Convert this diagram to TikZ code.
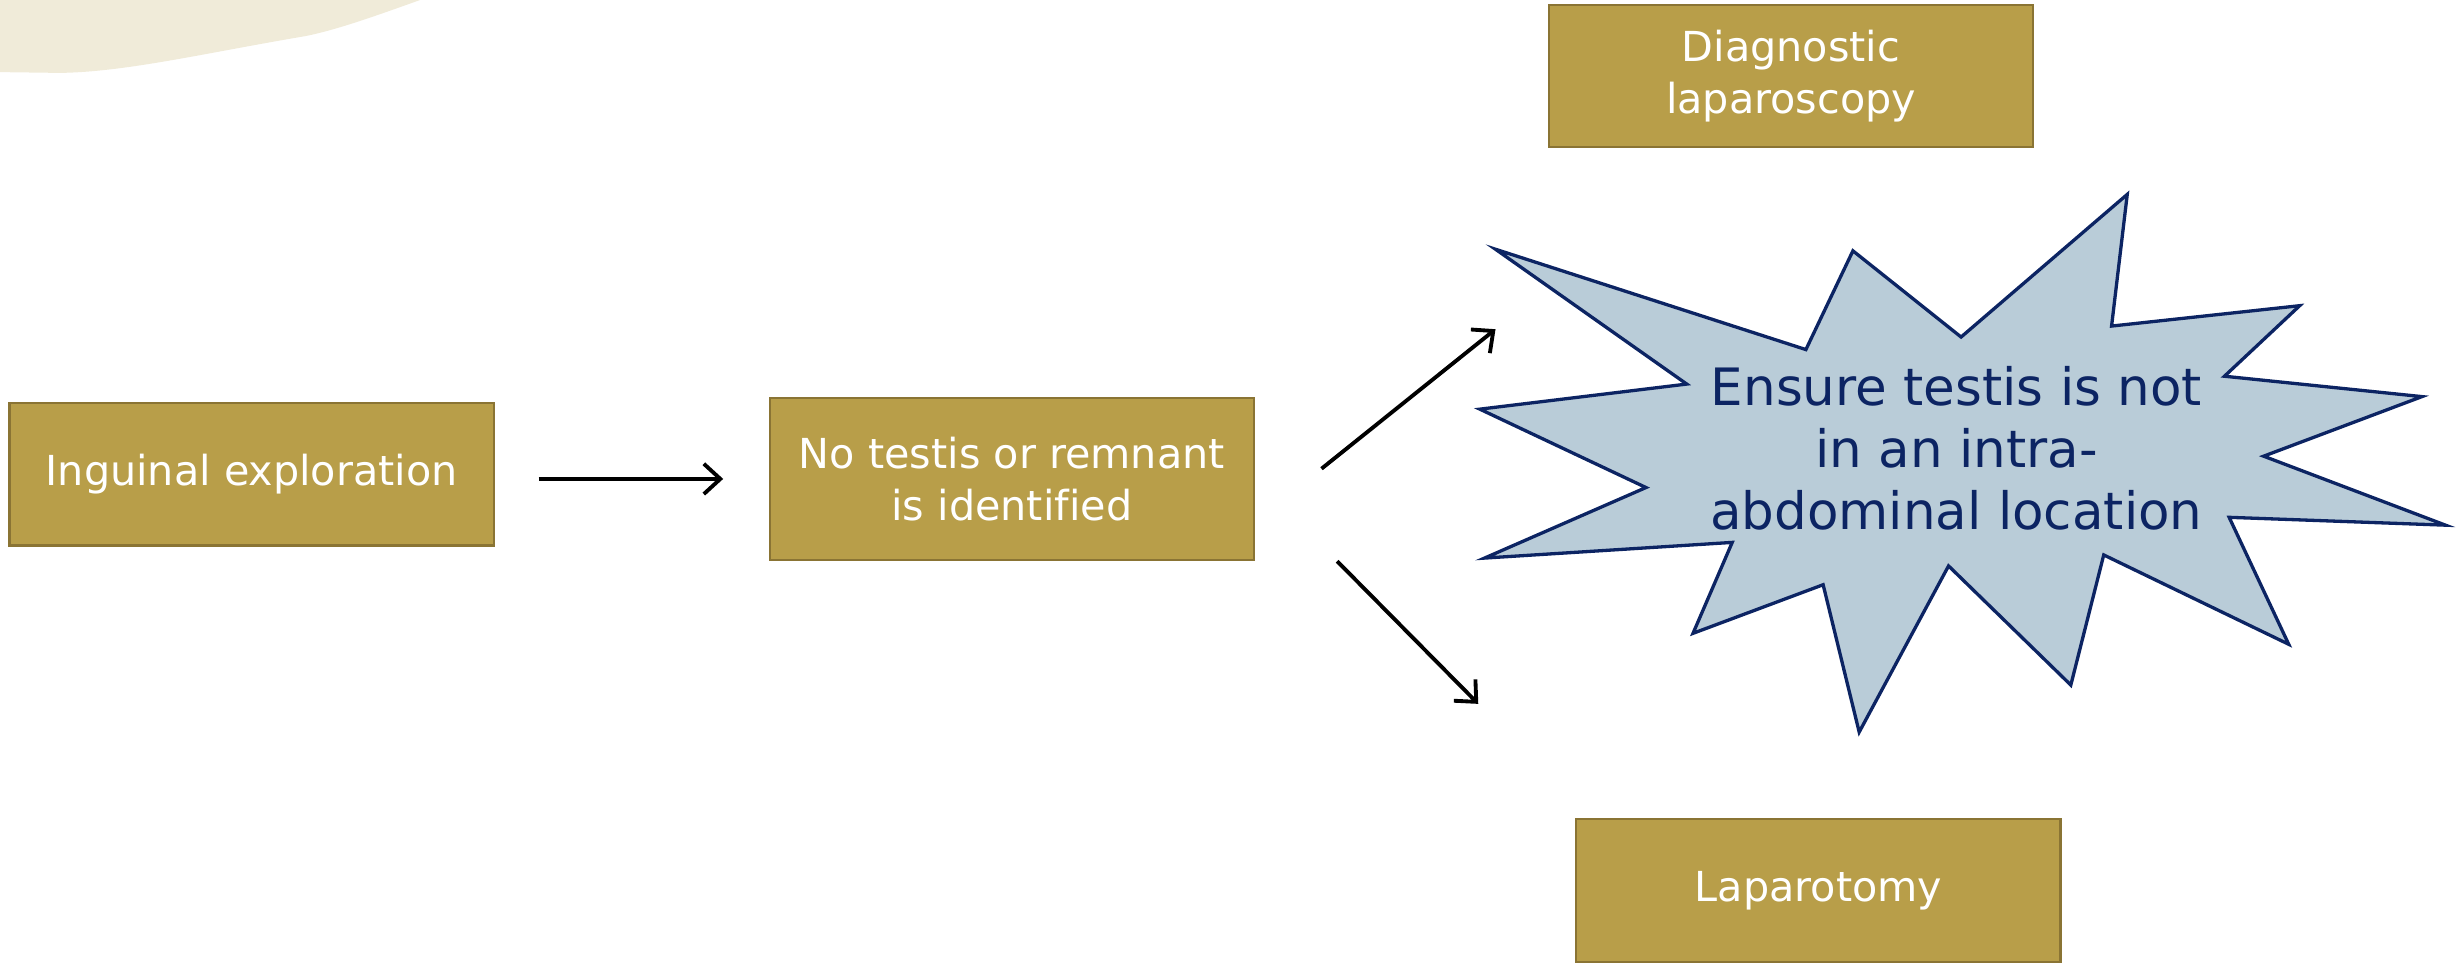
\documentclass[tikz,border=0pt]{standalone}
\usepackage{fontspec}
\setmainfont{DejaVu Sans}[Ligatures=NoCommon]
\usetikzlibrary{arrows.meta}

\definecolor{gold}{HTML}{B89E49}
\definecolor{golddark}{HTML}{8A7434}
\definecolor{cream}{HTML}{F0EBD9}
\definecolor{starblue}{HTML}{B9CCD8}
\definecolor{navy}{HTML}{0C2463}

\begin{document}
\begin{tikzpicture}[x=0.02cm, y=-0.02cm, >={Straight Barb[length=6pt,width=11pt]},
box/.style={draw=golddark, line width=0.8pt, fill=gold, text=white, align=center,
  minimum width=6.18cm, minimum height=1.82cm, font=\fontsize{15}{18.8}\selectfont},
link/.style={->, line width=1.4pt}]
\useasboundingbox (0,0) rectangle (1568,616);
% corner swoosh
\fill[cream] (0,0) -- (268,0) .. controls (240,10) and (215,19) .. (195,23)
  .. controls (130,34) and (80,46) .. (38,46.5) -- (0,46) -- cycle;
% boxes
\node[box] (explore) at (160.5,302.5) {Inguinal exploration};
\node[box, minimum height=2.06cm] (none) at (645.5,305.5) {No testis or remnant\\is identified};
\node[box] (lapscope) at (1142.5,48.5) {Diagnostic\\laparoscopy};
\node[box] (lapotomy) at (1160,568) {Laparotomy};
% the burst
\draw[fill=starblue, draw=navy, line width=1.2pt] (954,159) -- (1152,223) -- (1182,160)
  -- (1251,215) -- (1357,124) -- (1347,208) -- (1467,195) -- (1419,240) -- (1545,253)
  -- (1444,291) -- (1560,335) -- (1422,330) -- (1460,411) -- (1342,354) -- (1321,437)
  -- (1243,361) -- (1186,467) -- (1163,373) -- (1080,404) -- (1105,346) -- (947,356)
  -- (1050,311) -- (944,261) -- (1076,245) -- cycle;
\node[text=navy, align=center, font=\fontsize{18.7}{22.5}\selectfont] (warn) at (1248,286)
  {Ensure testis is not\\in an intra-\\abdominal location};
% arrows
\coordinate (upfrom) at (843,299);
\coordinate (upto) at (954,210);
\coordinate (downfrom) at (853,358);
\coordinate (downto) at (943,449);
\draw[link, shorten <=0.56cm, shorten >=0.58cm] (explore.east |- none.west) -- (none.west);
\draw[link] (upfrom) -- (upto);
\draw[link] (downfrom) -- (downto);
\end{tikzpicture}
\end{document}
